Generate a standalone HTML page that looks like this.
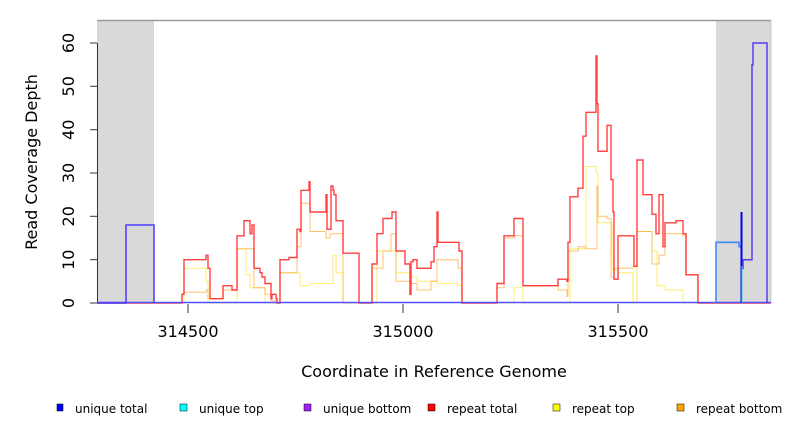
<!DOCTYPE html>
<html><head><meta charset="utf-8"><style>
body{margin:0;background:#fff;width:792px;height:432px;overflow:hidden;font-family:"Liberation Sans",sans-serif}
</style></head><body>
<svg id="s" width="792" height="432" xmlns="http://www.w3.org/2000/svg" font-family="DejaVu Sans, Liberation Sans, sans-serif">
<rect x="97" y="20" width="57" height="283" fill="#d9d9d9"/>
<rect x="716" y="20" width="55" height="283" fill="#d9d9d9"/>
<line x1="97" y1="20.5" x2="771" y2="20.5" stroke="#999" stroke-width="1.5"/>
<line x1="771" y1="20" x2="771" y2="303" stroke="#ccc"/>
<line x1="97.5" y1="43" x2="97.5" y2="303" stroke="#333"/>
<g stroke="#333">
<line x1="90" y1="303" x2="97" y2="303"/><line x1="90" y1="259.7" x2="97" y2="259.7"/><line x1="90" y1="216.3" x2="97" y2="216.3"/><line x1="90" y1="173" x2="97" y2="173"/><line x1="90" y1="129.7" x2="97" y2="129.7"/><line x1="90" y1="86.3" x2="97" y2="86.3"/><line x1="90" y1="43" x2="97" y2="43"/>
<line x1="188" y1="304" x2="188" y2="313"/><line x1="403" y1="304" x2="403" y2="313"/><line x1="618" y1="304" x2="618" y2="313"/>
</g>
<g font-size="16" fill="#000" text-anchor="middle">
<text transform="translate(74,303) rotate(-90)">0</text>
<text transform="translate(74,259.7) rotate(-90)">10</text>
<text transform="translate(74,216.3) rotate(-90)">20</text>
<text transform="translate(74,173) rotate(-90)">30</text>
<text transform="translate(74,129.7) rotate(-90)">40</text>
<text transform="translate(74,86.3) rotate(-90)">50</text>
<text transform="translate(74,43) rotate(-90)">60</text>
<text x="188" y="337">314500</text><text x="403" y="337">315000</text><text x="618" y="337">315500</text>
<text x="434" y="377">Coordinate in Reference Genome</text>
<text transform="translate(37,162) rotate(-90)">Read Coverage Depth</text>
</g>
<g id="series" fill="none"></g>
<g font-size="12" font-family="DejaVu Sans, sans-serif">
<rect x="57" y="404" width="6" height="7" fill="#00f" stroke="#000" stroke-width=".5"/><text x="75" y="413">unique total</text>
<rect x="180" y="404" width="7" height="7" fill="#0ff" stroke="#000" stroke-width=".5"/><text x="199" y="413">unique top</text>
<rect x="304" y="404" width="7" height="7" fill="#a020f0" stroke="#000" stroke-width=".5"/><text x="323" y="413">unique bottom</text>
<rect x="428" y="404" width="7" height="7" fill="#f00" stroke="#000" stroke-width=".5"/><text x="447" y="413">repeat total</text>
<rect x="553" y="404" width="7" height="7" fill="#ff0" stroke="#000" stroke-width=".5"/><text x="572" y="413">repeat top</text>
<rect x="677" y="404" width="7" height="7" fill="#ffa500" stroke="#000" stroke-width=".5"/><text x="696" y="413">repeat bottom</text>
</g>
</svg>
<script>
function Y(v){return 303-v*4.333;}
function step(d){var s="M"+d[0][0]+","+Y(d[0][1]);for(var i=1;i<d.length;i++){s+=" H"+d[i][0]+" V"+Y(d[i][1]).toFixed(1);}return s;}
var red=[[97,0],[182,2],[184,10],[206,11],[208,8],[210,1],[223,4],[232,3],[237,15.5],[244,19],[250,16],[252,18],[254,8],[260,7],[262,6],[265,4.5],[271,1],[272,2],[276,1],[277,0],[280,10],[289,10.5],[297,17],[300,16.5],[301,26],[308,26],[309,28],[310,21],[324,21],[326,25],[327,17],[331,27],[333,26],[334,25],[336,19],[343,11.5],[359,0],[372,9],[377,16],[383,19.5],[391,19.5],[392,21],[395,21],[396,12],[404,12],[405,9],[410,2],[411,9.5],[413,10],[417,8],[431,8],[431,9.5],[434,13],[437,21],[438,14],[458,14],[459,12],[462,0],[497,4.5],[504,15.5],[514,19.5],[523,4],[558,5.5],[567,5],[568,14],[570,24.5],[578,26.5],[583,38.5],[586,44],[596,57],[597,46],[598,35],[607,41],[611,28.5],[613,21],[614,5.5],[618,15.5],[633,15.5],[634,8.5],[637,33],[642,33],[643,25],[652,25],[652,20.5],[656,16],[657,16],[659,25],[663,13],[665,18.5],[675,18.5],[676,19],[683,16],[686,6.5],[698,0],[771,0]];
var orange=[[97,0],[182,2],[184,2.5],[206,3],[208,1],[223,3],[237,12.5],[254,3.5],[265,2],[271,0.5],[277,0],[280,7],[297,13],[301,23],[310,16.5],[326,15],[330,16],[343,0],[372,8],[383,12],[391,16],[396,5],[410,4.5],[417,3],[431,5],[437,10],[458,8],[462,0],[497,3.5],[504,15],[514,15.5],[523,4],[558,3],[567,1.5],[568,12],[578,13],[586,12.5],[597,27],[598,20],[607,19.5],[611,6],[614,8],[633,8.5],[637,16.5],[652,9],[659,11],[665,16],[683,15.5],[686,6.5],[698,0],[771,0]];
var yellow=[[97,0],[184,8],[206,5],[208,0],[237,12.5],[246,6.5],[250,3.5],[265,0],[280,7],[300,4],[310,4.5],[333,11],[336,7],[343,0],[377,12],[396,7],[411,6],[417,5],[437,4.5],[458,4],[462,0],[514,3.5],[523,0],[570,12.5],[586,31.5],[596,30],[598,18.5],[612,11.5],[613,7.5],[618,7],[633,0],[637,16.5],[652,12],[657,4],[665,3],[683,0],[771,0]];
var g=document.getElementById("series");
function add(d,c,w,o){var p=document.createElementNS("http://www.w3.org/2000/svg","path");p.setAttribute("d",typeof d=="string"?d:step(d));p.setAttribute("stroke",c);p.setAttribute("stroke-width",w);p.setAttribute("stroke-opacity",o);g.appendChild(p);}
add(yellow,"#ffe94a",1,0.8);
add(orange,"#ffaa33",1,0.7);
add(red,"#ff2020",1.4,0.85);
add("M97,302.5 H771","#5050ff",1.4,1);
add(step([[97,0],[126,0],[126,18],[154,18],[154,0]]),"#4a3cff",1.5,1);
add(step([[716,0],[716,14],[739,14],[739,13],[741,13]]),"#3d8bff",1.6,1);
add("M741.5,303 V212","#0000ee",2,1);
add(step([[742,8],[743,10],[752,10],[752,55],[753,60],[767,60],[767,0]]),"#5a3cf0",1.5,1);
add("M742,303 V266","#33ddee",1,1);
</script>
</body></html>
